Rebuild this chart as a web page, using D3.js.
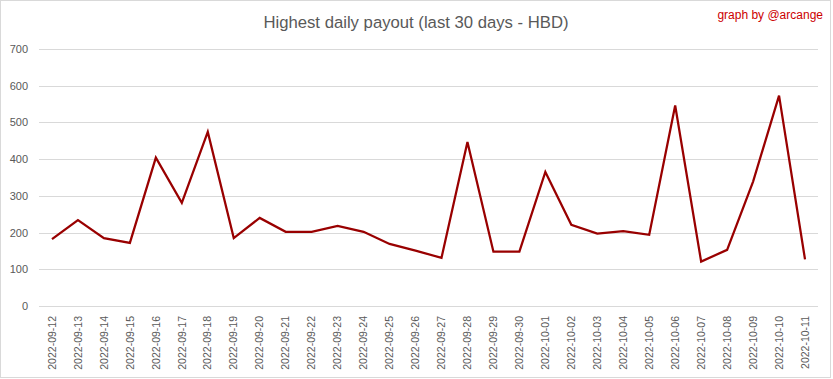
<!DOCTYPE html>
<html>
<head>
<meta charset="utf-8">
<script src="https://cdn.jsdelivr.net/npm/d3@7"></script>
<style>
  body { margin: 0; background: #fff; }
  svg { display: block; font-family: "Liberation Sans Narrow", "Liberation Sans", Arial, sans-serif; }
</style>
</head>
<body>
<div id="chart"></div>
<script>
// Highest daily payout, last 30 days (HBD)
const dates = [
    "2022-09-12", "2022-09-13", "2022-09-14", "2022-09-15", "2022-09-16",
    "2022-09-17", "2022-09-18", "2022-09-19", "2022-09-20", "2022-09-21",
    "2022-09-22", "2022-09-23", "2022-09-24", "2022-09-25", "2022-09-26",
    "2022-09-27", "2022-09-28", "2022-09-29", "2022-09-30", "2022-10-01",
    "2022-10-02", "2022-10-03", "2022-10-04", "2022-10-05", "2022-10-06",
    "2022-10-07", "2022-10-08", "2022-10-09", "2022-10-10", "2022-10-11"
];
const payouts = [
    182, 234, 185, 172, 404, 281, 474, 185, 240, 202,
    202, 218, 202, 169, 151, 131, 447, 148, 148, 365,
    221, 197, 204, 194, 546, 121, 153, 339, 573, 127
];
const yTicks = [0, 100, 200, 300, 400, 500, 600, 700];

const width = 833, height = 379;
const margin = { top: 49, right: 15, bottom: 73, left: 39 };

const svg = d3.select('#chart')
    .append('svg')
    .attr('width', width)
    .attr('height', height);

// chart frame
svg.append('rect')
    .attr('x', 0.5).attr('y', 0.5)
    .attr('width', width - 3).attr('height', height - 2)
    .attr('fill', '#fff')
    .attr('stroke', '#d9d9d9');

const x = d3.scaleBand()
    .domain(dates)
    .range([margin.left, width - margin.right]);

const y = d3.scaleLinear()
    .domain([0, 700])
    .range([height - margin.bottom, margin.top]);

// gridlines
svg.append('g')
    .selectAll('line')
    .data(yTicks)
    .enter()
    .append('line')
    .attr('x1', margin.left)
    .attr('x2', width - margin.right)
    .attr('y1', d => Math.round(y(d)) + 0.5)
    .attr('y2', d => Math.round(y(d)) + 0.5)
    .attr('stroke', '#d9d9d9')
    .attr('stroke-width', 1);

// y labels
const yAxis = svg.append('g')
    .attr('transform', `translate(${margin.left - 11},0)`)
    .call(d3.axisLeft(y).tickValues(yTicks).tickSize(0).tickPadding(0));
yAxis.select('.domain').remove();
yAxis.selectAll('text')
    .attr('font-size', '11px')
    .attr('font-family', 'inherit')
    .attr('fill', '#595959');

// x labels, rotated
const xAxis = svg.append('g')
    .attr('transform', `translate(0,${height - margin.bottom})`)
    .call(d3.axisBottom(x).tickSize(0).tickPadding(0));
xAxis.select('.domain').remove();
xAxis.selectAll('text')
    .attr('font-size', '10.5px')
    .attr('font-family', 'inherit')
    .attr('fill', '#595959')
    .attr('text-anchor', 'end')
    .attr('dy', '0.35em')
    .attr('transform', 'translate(0,10) rotate(-90)')
    .attr('x', 0).attr('y', 0);

// payout line
const line = d3.line()
    .x((d, i) => x(dates[i]) + x.bandwidth() / 2)
    .y(d => y(d));

svg.append('path')
    .datum(payouts)
    .attr('d', line)
    .attr('fill', 'none')
    .attr('stroke', '#990000')
    .attr('stroke-width', 2.25)
    .attr('stroke-linejoin', 'miter');

// title
svg.append('text')
    .attr('x', 416)
    .attr('y', 28)
    .attr('text-anchor', 'middle')
    .attr('font-size', '16.7px')
    .attr('fill', '#595959')
    .text('Highest daily payout (last 30 days - HBD)');

svg.append('text')
    .attr('x', 823)
    .attr('y', 19)
    .attr('text-anchor', 'end')
    .attr('font-size', '12px')
    .attr('fill', '#cc0000')
    .text('graph by @arcange');
</script>
</body>
</html>
